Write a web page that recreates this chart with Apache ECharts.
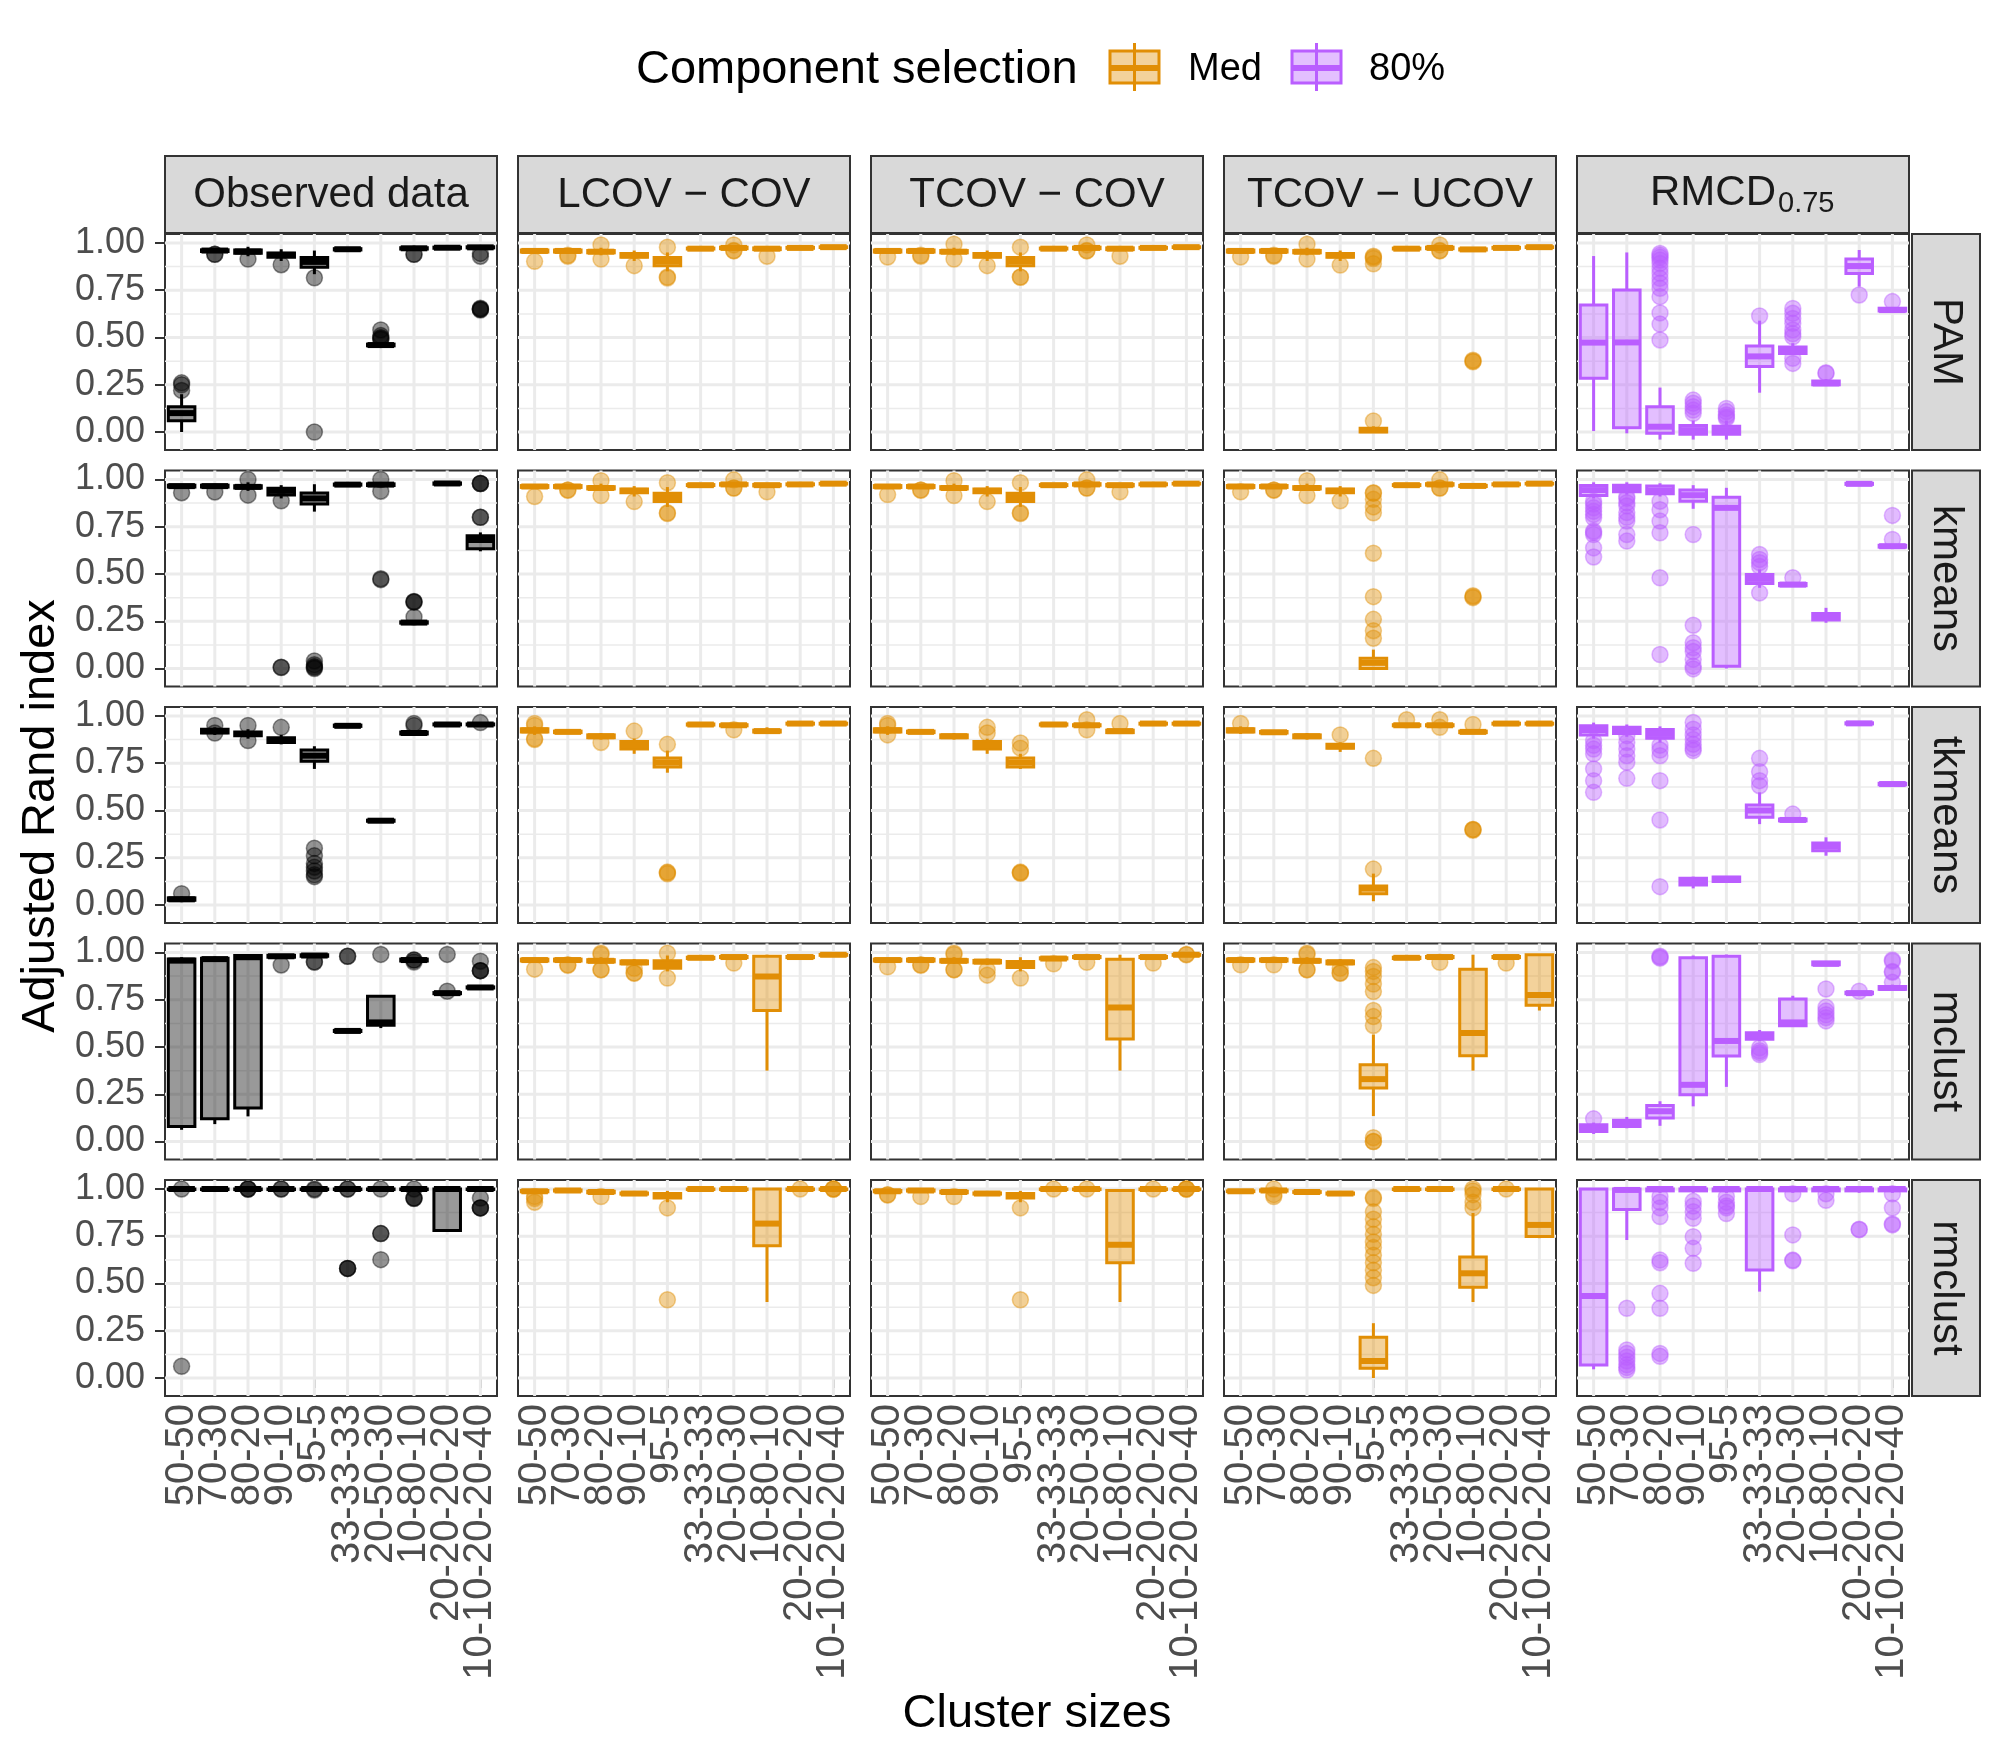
<!DOCTYPE html>
<html><head><meta charset="utf-8">
<script src="https://cdn.jsdelivr.net/npm/echarts@6/dist/echarts.min.js"></script>
<style>html,body{margin:0;padding:0;background:#fff}#c{width:2000px;height:1750px}</style>
</head><body><div id="c"></div>
<script>
// ---------------- DATA ----------------
const categories = ["50-50","70-30","80-20","90-10","95-5","33-33-33","20-50-30","10-80-10","20-20-20-20","10-10-20-20-40"];
const methods = ["Observed data","LCOV \u2212 COV","TCOV \u2212 COV","TCOV \u2212 UCOV","RMCD"];
const algorithms = ["PAM","kmeans","tkmeans","mclust","rmclust"];
const legendNames = ["Med","80%"];
const legendTitle = "Component selection";
const yTicks = [0, 0.25, 0.5, 0.75, 1];
const yMinor = [0.125, 0.375, 0.625, 0.875];

// boxes: [lower whisker, Q1, median, Q3, upper whisker] per category
// outliers: list of values per category
// ---- Observed data ----
const box_obs_pam = [[0.0,0.06,0.10,0.134,0.2],[0.95,0.955,0.96,0.964,0.97],[0.93,0.946,0.955,0.963,0.98],[0.905,0.925,0.937,0.947,0.967],[0.835,0.872,0.9,0.923,0.96],[0.96,0.963,0.967,0.97,0.974],[0.452,0.456,0.46,0.465,0.47],[0.965,0.968,0.972,0.975,0.98],[0.97,0.972,0.975,0.978,0.98],[0.97,0.974,0.977,0.98,0.985]];
const out_obs_pam = [[0.26,0.25,0.22],[0.94,0.94],[0.915],[0.885],[0.816,0.0],[],[0.54,0.51,0.5,0.495,0.49],[0.94,0.94],[],[0.945,0.93,0.65,0.65,0.655,0.645]];
const box_obs_kmeans = [[0.955,0.96,0.965,0.97,0.975],[0.955,0.96,0.965,0.97,0.975],[0.94,0.955,0.961,0.967,0.985],[0.9,0.918,0.94,0.954,0.97],[0.83,0.87,0.9,0.929,0.975],[0.965,0.97,0.973,0.976,0.98],[0.96,0.968,0.973,0.977,0.985],[0.235,0.24,0.243,0.247,0.25],[0.97,0.975,0.979,0.982,0.985],[0.62,0.633,0.68,0.702,0.72]];
const out_obs_kmeans = [[0.93],[0.934],[1.0,0.917],[0.887,0.007,0.005],[0.04,0.02,0.01,0.0,0.005],[],[1.0,0.938,0.47,0.475],[0.353,0.35,0.355,0.273],[],[0.8,0.8,0.979,0.979,0.979]];
const box_obs_tkmeans = [[0.02,0.025,0.03,0.038,0.045],[0.9,0.91,0.92,0.93,0.94],[0.88,0.895,0.905,0.915,0.93],[0.85,0.86,0.87,0.885,0.9],[0.72,0.76,0.79,0.82,0.84],[0.94,0.945,0.948,0.952,0.955],[0.44,0.443,0.446,0.449,0.452],[0.9,0.905,0.91,0.915,0.92],[0.95,0.953,0.955,0.958,0.96],[0.95,0.953,0.955,0.958,0.96]];
const out_obs_tkmeans = [[0.06],[0.95,0.91],[0.95,0.87],[0.94],[0.3,0.26,0.22,0.2,0.18,0.16,0.15],[],[],[0.95,0.96],[],[0.965]];
const box_obs_mclust = [[0.062,0.08,0.957,0.966,0.975],[0.092,0.12,0.965,0.97,0.978],[0.133,0.177,0.975,0.984,0.99],[0.97,0.975,0.98,0.985,0.99],[0.975,0.98,0.984,0.988,0.99],[0.58,0.582,0.585,0.588,0.59],[0.6,0.615,0.63,0.768,0.77],[0.95,0.955,0.96,0.965,0.97],[0.78,0.782,0.785,0.788,0.79],[0.81,0.812,0.815,0.818,0.82]];
const out_obs_mclust = [[],[],[],[0.934],[0.95,0.95],[0.98,0.98],[0.99],[0.96,0.96,0.95],[0.99,0.795],[0.954,0.904,0.904,0.904]];
const box_obs_rmclust = [[0.995,0.997,1.0,1.0,1.0],[0.995,0.997,1.0,1.0,1.0],[0.995,0.997,1.0,1.0,1.0],[0.995,0.997,1.0,1.0,1.0],[0.995,0.997,1.0,1.0,1.0],[0.995,0.997,1.0,1.0,1.0],[0.995,0.997,1.0,1.0,1.0],[0.995,0.997,1.0,1.0,1.0],[0.78,0.78,1.0,1.0,1.0],[0.995,0.997,1.0,1.0,1.0]];
const out_obs_rmclust = [[1.0,0.062],[],[1.0,1.0,1.0],[1.0,1.0],[1.0,0.995],[1.0,1.0,0.58,0.58,0.58],[1.0,0.764,0.764,0.626],[1.0,0.952,0.952,0.95],[],[0.952,0.9,0.9,0.9]];

// ---- LCOV - COV (Med) ----
const box_lcov_pam = [[0.945,0.952,0.958,0.963,0.97],[0.945,0.952,0.958,0.963,0.97],[0.935,0.948,0.954,0.96,0.975],[0.905,0.925,0.935,0.945,0.96],[0.85,0.88,0.903,0.923,0.95],[0.965,0.968,0.97,0.973,0.976],[0.965,0.97,0.974,0.978,0.985],[0.96,0.965,0.97,0.974,0.978],[0.97,0.972,0.974,0.977,0.98],[0.974,0.976,0.978,0.98,0.982]];
const out_lcov_pam = [[0.903],[0.93,0.935],[0.99,0.915],[0.88],[0.978,0.815,0.82],[],[0.99,0.958,0.96],[0.93],[],[]];
const box_lcov_kmeans = [[0.95,0.958,0.963,0.968,0.975],[0.95,0.958,0.963,0.968,0.975],[0.94,0.95,0.955,0.962,0.978],[0.91,0.93,0.94,0.95,0.965],[0.855,0.883,0.907,0.927,0.96],[0.965,0.968,0.97,0.973,0.976],[0.965,0.97,0.974,0.978,0.985],[0.96,0.966,0.97,0.974,0.978],[0.97,0.972,0.974,0.977,0.98],[0.974,0.976,0.978,0.98,0.982]];
const out_lcov_kmeans = [[0.91],[0.943,0.945],[0.994,0.915],[0.883],[0.983,0.824,0.82],[],[0.998,0.955,0.955],[0.935],[],[]];
const box_lcov_tkmeans = [[0.9,0.915,0.924,0.932,0.945],[0.905,0.912,0.916,0.92,0.925],[0.875,0.885,0.893,0.9,0.91],[0.8,0.825,0.845,0.865,0.88],[0.7,0.73,0.754,0.778,0.817],[0.95,0.952,0.955,0.958,0.96],[0.945,0.948,0.951,0.954,0.958],[0.91,0.915,0.92,0.925,0.94],[0.955,0.957,0.96,0.962,0.965],[0.955,0.957,0.96,0.962,0.965]];
const out_lcov_tkmeans = [[0.96,0.95,0.88,0.875],[],[0.86],[0.92],[0.85,0.174,0.17,0.165],[],[0.927],[],[],[]];
const box_lcov_mclust = [[0.95,0.955,0.96,0.965,0.97],[0.95,0.955,0.96,0.965,0.97],[0.94,0.95,0.956,0.962,0.975],[0.93,0.94,0.948,0.955,0.965],[0.9,0.916,0.936,0.956,0.984],[0.965,0.968,0.972,0.975,0.978],[0.97,0.973,0.976,0.979,0.982],[0.375,0.693,0.873,0.98,0.988],[0.97,0.973,0.976,0.979,0.982],[0.982,0.985,0.988,0.99,0.993]];
const out_lcov_mclust = [[0.912],[0.932,0.935],[0.996,0.99,0.908,0.91],[0.916,0.892,0.89],[0.996,0.865],[],[0.944],[],[],[]];
const box_lcov_rmclust = [[0.975,0.985,0.988,0.992,0.998],[0.985,0.989,0.992,0.995,0.998],[0.975,0.98,0.984,0.988,0.995],[0.97,0.973,0.976,0.979,0.985],[0.93,0.952,0.964,0.976,0.99],[0.995,0.997,1.0,1.0,1.0],[0.995,0.997,1.0,1.0,1.0],[0.402,0.7,0.817,1.0,1.0],[0.995,0.997,1.0,1.0,1.0],[0.995,0.997,1.0,1.0,1.0]];
const out_lcov_rmclust = [[0.96,0.93,0.95],[],[0.96],[],[0.9,0.414],[],[],[],[1.0],[1.0,1.0,1.0]];

// ---- TCOV - COV (Med) ----
const box_tcov_pam = [[0.945,0.952,0.958,0.963,0.97],[0.945,0.952,0.958,0.963,0.97],[0.935,0.948,0.954,0.96,0.975],[0.905,0.925,0.935,0.945,0.96],[0.85,0.88,0.903,0.923,0.95],[0.965,0.968,0.97,0.973,0.976],[0.965,0.97,0.974,0.978,0.985],[0.96,0.965,0.97,0.974,0.978],[0.97,0.972,0.974,0.977,0.98],[0.974,0.976,0.978,0.98,0.982]];
const out_tcov_pam = [[0.926],[0.93,0.935],[0.994,0.915],[0.88],[0.978,0.819,0.82],[],[0.99,0.958,0.96],[0.93],[],[]];
const box_tcov_kmeans = [[0.95,0.958,0.963,0.968,0.975],[0.95,0.958,0.963,0.968,0.975],[0.94,0.95,0.955,0.962,0.978],[0.91,0.93,0.94,0.95,0.965],[0.855,0.883,0.907,0.927,0.96],[0.965,0.968,0.97,0.973,0.976],[0.965,0.97,0.974,0.978,0.985],[0.96,0.966,0.97,0.974,0.978],[0.97,0.972,0.974,0.977,0.98],[0.974,0.976,0.978,0.98,0.982]];
const out_tcov_kmeans = [[0.92],[0.943,0.945],[0.994,0.915],[0.883],[0.983,0.824,0.82],[],[0.998,0.955,0.955],[0.935],[],[]];
const box_tcov_tkmeans = [[0.9,0.915,0.924,0.932,0.945],[0.905,0.912,0.916,0.92,0.925],[0.875,0.885,0.893,0.9,0.91],[0.8,0.825,0.845,0.865,0.88],[0.72,0.73,0.754,0.778,0.8],[0.95,0.952,0.955,0.958,0.96],[0.945,0.948,0.951,0.954,0.958],[0.905,0.912,0.92,0.925,0.93],[0.955,0.957,0.96,0.962,0.965],[0.955,0.957,0.96,0.962,0.965]];
const out_tcov_tkmeans = [[0.96,0.95,0.9],[],[],[0.94,0.91],[0.857,0.83,0.174,0.17,0.168],[],[0.98,0.927],[0.96],[],[]];
const box_tcov_mclust = [[0.95,0.955,0.96,0.965,0.97],[0.95,0.955,0.96,0.965,0.97],[0.94,0.95,0.956,0.962,0.975],[0.935,0.945,0.952,0.958,0.968],[0.9,0.92,0.936,0.952,0.975],[0.962,0.966,0.968,0.972,0.976],[0.97,0.973,0.976,0.979,0.982],[0.375,0.542,0.709,0.964,0.988],[0.97,0.973,0.976,0.979,0.982],[0.982,0.985,0.988,0.99,0.993]];
const out_tcov_mclust = [[0.924],[0.932,0.935],[0.996,0.99,0.908,0.91],[0.908,0.88],[0.865],[0.94],[0.948],[],[0.944],[0.988,0.99]];
const box_tcov_rmclust = [[0.975,0.985,0.988,0.992,0.998],[0.985,0.989,0.992,0.995,0.998],[0.975,0.98,0.984,0.988,0.995],[0.97,0.973,0.976,0.979,0.985],[0.93,0.952,0.964,0.976,0.99],[0.995,0.997,1.0,1.0,1.0],[0.995,0.997,1.0,1.0,1.0],[0.402,0.61,0.705,0.992,1.0],[0.995,0.997,1.0,1.0,1.0],[0.995,0.997,1.0,1.0,1.0]];
const out_tcov_rmclust = [[0.968,0.97],[0.96],[0.96],[],[0.9,0.414],[1.0],[1.0],[],[1.0],[1.0,1.0,1.0]];

// ---- TCOV - UCOV (Med) ----
const box_ucov_pam = [[0.945,0.952,0.958,0.963,0.97],[0.945,0.952,0.958,0.963,0.97],[0.935,0.948,0.954,0.96,0.975],[0.905,0.925,0.935,0.945,0.96],[-0.005,0.0,0.01,0.02,0.03],[0.965,0.968,0.97,0.973,0.976],[0.965,0.97,0.974,0.978,0.985],[0.96,0.963,0.966,0.969,0.972],[0.97,0.972,0.974,0.977,0.98],[0.974,0.976,0.978,0.98,0.982]];
const out_ucov_pam = [[0.926],[0.93,0.935],[0.994,0.915],[0.883],[0.058,0.93,0.925,0.918,0.89],[],[0.99,0.958,0.96],[0.375,0.38,0.372],[],[]];
const box_ucov_kmeans = [[0.95,0.958,0.963,0.968,0.975],[0.95,0.958,0.963,0.968,0.975],[0.94,0.95,0.955,0.962,0.978],[0.91,0.93,0.94,0.95,0.965],[-0.005,0.0,0.03,0.054,0.1],[0.965,0.968,0.97,0.973,0.976],[0.965,0.97,0.974,0.978,0.985],[0.96,0.963,0.966,0.969,0.972],[0.97,0.972,0.974,0.977,0.98],[0.974,0.976,0.978,0.98,0.982]];
const out_ucov_kmeans = [[0.935],[0.943,0.945],[0.994,0.915],[0.887],[0.16,0.2,0.26,0.38,0.61,0.824,0.855,0.895,0.927,0.93],[],[0.998,0.955,0.955],[0.38,0.375,0.385],[],[]];
const box_ucov_tkmeans = [[0.905,0.915,0.924,0.932,0.945],[0.905,0.91,0.914,0.918,0.922],[0.875,0.885,0.893,0.9,0.91],[0.81,0.83,0.84,0.85,0.86],[0.02,0.06,0.087,0.1,0.166],[0.945,0.948,0.951,0.954,0.958],[0.945,0.948,0.951,0.954,0.958],[0.905,0.912,0.916,0.92,0.93],[0.955,0.957,0.96,0.962,0.965],[0.955,0.957,0.96,0.962,0.965]];
const out_ucov_tkmeans = [[0.96],[],[],[0.9],[0.19,0.776],[0.98],[0.98,0.94],[0.955,0.4,0.4,0.395],[],[]];
const box_ucov_mclust = [[0.95,0.955,0.96,0.965,0.97],[0.95,0.955,0.96,0.965,0.97],[0.94,0.95,0.956,0.962,0.975],[0.93,0.94,0.948,0.955,0.965],[0.135,0.283,0.33,0.406,0.566],[0.965,0.968,0.972,0.975,0.978],[0.97,0.973,0.976,0.979,0.982],[0.375,0.454,0.574,0.912,0.988],[0.97,0.973,0.976,0.979,0.982],[0.693,0.721,0.775,0.988,0.99]];
const out_ucov_mclust = [[0.935],[0.935],[0.996,0.99,0.908,0.91],[0.916,0.892,0.89],[0.92,0.9,0.873,0.833,0.793,0.693,0.661,0.614,0.02,0.0,0.0],[],[0.948],[],[0.944],[]];
const box_ucov_rmclust = [[0.985,0.986,0.988,0.99,0.992],[0.985,0.989,0.992,0.995,0.998],[0.98,0.982,0.984,0.986,0.988],[0.97,0.973,0.976,0.979,0.982],[0.0,0.052,0.09,0.215,0.29],[0.995,0.997,1.0,1.0,1.0],[0.995,0.997,1.0,1.0,1.0],[0.402,0.48,0.554,0.64,0.873],[0.995,0.997,1.0,1.0,1.0],[0.74,0.749,0.81,1.0,1.0]];
const out_ucov_rmclust = [[],[1.0,0.96,0.97],[],[],[0.956,0.95,0.88,0.84,0.8,0.76,0.72,0.69,0.65,0.61,0.57,0.53,0.49],[],[],[1.0,0.99,0.97,0.93,0.9],[1.0],[]];

// ---- RMCD 0.75 (80%) ----
const box_rmcd_pam = [[0.005,0.284,0.473,0.672,0.931],[-0.007,0.023,0.474,0.751,0.95],[-0.04,-0.007,0.028,0.134,0.235],[-0.04,-0.012,0.01,0.035,0.06],[-0.04,-0.012,0.01,0.03,0.06],[0.208,0.346,0.4,0.455,0.589],[0.41,0.416,0.434,0.45,0.47],[0.243,0.25,0.257,0.27,0.28],[0.769,0.839,0.878,0.915,0.963],[0.635,0.64,0.645,0.655,0.66]];
const out_rmcd_pam = [[],[],[0.945,0.935,0.924,0.91,0.892,0.866,0.84,0.813,0.787,0.76,0.716,0.63,0.571,0.487],[0.169,0.152,0.134,0.116,0.099],[0.125,0.108,0.09,0.072,0.08],[0.614],[0.654,0.628,0.601,0.575,0.54,0.52,0.504,0.39,0.363],[0.314,0.31],[0.725],[0.69]];
const box_rmcd_kmeans = [[0.9,0.915,0.944,0.968,0.985],[0.92,0.935,0.954,0.97,0.985],[0.91,0.924,0.942,0.965,0.98],[0.845,0.885,0.917,0.944,0.97],[0.0,0.012,0.85,0.906,0.956],[0.427,0.45,0.474,0.497,0.524],[0.435,0.438,0.444,0.45,0.455],[0.242,0.256,0.273,0.291,0.321],[0.972,0.974,0.977,0.98,0.982],[0.64,0.642,0.647,0.652,0.655]];
const out_rmcd_kmeans = [[0.885,0.87,0.85,0.832,0.815,0.797,0.727,0.72,0.709,0.638,0.59],[0.91,0.9,0.877,0.86,0.825,0.8,0.78,0.709,0.674],[0.885,0.84,0.78,0.718,0.48,0.074],[0.709,0.229,0.136,0.11,0.09,0.048,0.012,-0.002],[],[0.603,0.577,0.56,0.54,0.4],[0.48],[],[],[0.81,0.683]];
const box_rmcd_tkmeans = [[0.88,0.9,0.926,0.948,0.965],[0.89,0.908,0.926,0.94,0.955],[0.86,0.882,0.905,0.928,0.945],[0.088,0.106,0.123,0.141,0.15],[0.12,0.125,0.138,0.148,0.152],[0.428,0.464,0.5,0.529,0.596],[0.44,0.445,0.45,0.455,0.46],[0.261,0.287,0.31,0.328,0.358],[0.955,0.958,0.961,0.964,0.967],[0.633,0.636,0.64,0.644,0.647]];
const out_rmcd_tkmeans = [[0.87,0.845,0.825,0.8,0.72,0.658,0.596],[0.896,0.86,0.825,0.79,0.755,0.67],[0.845,0.82,0.79,0.658,0.45,0.097],[0.966,0.93,0.9,0.875,0.85,0.83,0.817],[],[0.776,0.705,0.658,0.631],[0.481],[],[],[]];
const box_rmcd_mclust = [[0.04,0.053,0.071,0.089,0.1],[0.07,0.08,0.098,0.112,0.13],[0.083,0.124,0.16,0.191,0.213],[0.186,0.248,0.3,0.972,0.984],[0.289,0.452,0.532,0.98,0.989],[0.53,0.541,0.559,0.576,0.59],[0.61,0.612,0.63,0.754,0.771],[0.93,0.935,0.94,0.95,0.955],[0.78,0.782,0.785,0.79,0.795],[0.8,0.805,0.812,0.82,0.83]];
const out_rmcd_mclust = [[0.12],[],[0.975,0.98,0.97],[],[],[0.496,0.48,0.47,0.46],[],[0.807,0.71,0.69,0.67,0.655,0.638],[0.795],[0.954,0.96,0.895,0.9,0.842]];
const box_rmcd_rmclust = [[0.046,0.069,0.434,1.0,1.0],[0.73,0.892,0.995,1.0,1.0],[0.98,0.99,1.0,1.0,1.0],[0.98,0.99,1.0,1.0,1.0],[0.98,0.99,1.0,1.0,1.0],[0.457,0.571,1.0,1.0,1.0],[0.98,0.99,1.0,1.0,1.0],[0.98,0.99,1.0,1.0,1.0],[0.98,0.99,1.0,1.0,1.0],[0.98,0.99,1.0,1.0,1.0]];
const out_rmcd_rmclust = [[],[0.369,0.148,0.13,0.11,0.09,0.07,0.055,0.042],[0.96,0.93,0.9,0.854,0.624,0.61,0.448,0.369,0.13,0.115],[0.935,0.91,0.88,0.845,0.748,0.686,0.607],[0.96,0.93,0.91,0.9,0.87],[],[0.975,0.757,0.624,0.62],[0.975,0.94],[0.787,0.785],[0.975,0.9,0.815,0.81]];

// ---------------- TABLES FOR THE LIBRARY ----------------
const boxTable = [
  [box_obs_pam, box_obs_kmeans, box_obs_tkmeans, box_obs_mclust, box_obs_rmclust],
  [box_lcov_pam, box_lcov_kmeans, box_lcov_tkmeans, box_lcov_mclust, box_lcov_rmclust],
  [box_tcov_pam, box_tcov_kmeans, box_tcov_tkmeans, box_tcov_mclust, box_tcov_rmclust],
  [box_ucov_pam, box_ucov_kmeans, box_ucov_tkmeans, box_ucov_mclust, box_ucov_rmclust],
  [box_rmcd_pam, box_rmcd_kmeans, box_rmcd_tkmeans, box_rmcd_mclust, box_rmcd_rmclust]
];
const outTable = [
  [out_obs_pam, out_obs_kmeans, out_obs_tkmeans, out_obs_mclust, out_obs_rmclust],
  [out_lcov_pam, out_lcov_kmeans, out_lcov_tkmeans, out_lcov_mclust, out_lcov_rmclust],
  [out_tcov_pam, out_tcov_kmeans, out_tcov_tkmeans, out_tcov_mclust, out_tcov_rmclust],
  [out_ucov_pam, out_ucov_kmeans, out_ucov_tkmeans, out_ucov_mclust, out_ucov_rmclust],
  [out_rmcd_pam, out_rmcd_kmeans, out_rmcd_tkmeans, out_rmcd_mclust, out_rmcd_rmclust]
];

// ---------------- LAYOUT & STYLE ----------------
const FONT = "Liberation Sans, Arial, Helvetica, sans-serif";
const COL_LEFT = [165, 518, 871, 1224, 1577];
const ROW_TOP = [234, 470.5, 707, 943.5, 1180];
const PW = 332, PH = 216;
const YMIN = -0.0952, YMAX = 1.0476;
const ORANGE = "#E18E05", PURPLE = "#BA5EFF";
const styles = [
  {stroke: "#000000", fill: "rgba(0,0,0,0.4)", point: "rgba(0,0,0,0.42)"},
  {stroke: ORANGE, fill: "rgba(225,142,5,0.4)", point: "rgba(225,142,5,0.42)"},
  {stroke: ORANGE, fill: "rgba(225,142,5,0.4)", point: "rgba(225,142,5,0.42)"},
  {stroke: ORANGE, fill: "rgba(225,142,5,0.4)", point: "rgba(225,142,5,0.42)"},
  {stroke: PURPLE, fill: "rgba(186,94,255,0.4)", point: "rgba(186,94,255,0.42)"}
];
const LW = 3;

function gridRenderer(params, api) {
  const cs = params.coordSys;
  const kind = api.value(0), v = api.value(1);
  if (kind === 2) {
    const x = api.coord([v, 0])[0];
    return {type: "line", shape: {x1: x, y1: cs.y, x2: x, y2: cs.y + cs.height}, style: {stroke: "#EBEBEB", lineWidth: 3}, silent: true};
  }
  const y = api.coord([0, v])[1];
  return {type: "line", shape: {x1: cs.x, y1: y, x2: cs.x + cs.width, y2: y}, style: {stroke: "#EBEBEB", lineWidth: kind === 0 ? 3 : 1.5}, silent: true};
}

function makeBoxRenderer(st) {
  return function (params, api) {
    const i = api.value(0);
    const lo = api.value(1), q1 = api.value(2), med = api.value(3), q3 = api.value(4), hi = api.value(5);
    const band = api.size([1, 0])[0];
    const bw = band * 0.8;
    const cx = api.coord([i, med])[0];
    const yLo = api.coord([i, lo])[1], yQ1 = api.coord([i, q1])[1], yMed = api.coord([i, med])[1];
    const yQ3 = api.coord([i, q3])[1], yHi = api.coord([i, hi])[1];
    return {type: "group", children: [
      {type: "line", shape: {x1: cx, y1: yHi, x2: cx, y2: yQ3}, style: {stroke: st.stroke, lineWidth: LW}},
      {type: "line", shape: {x1: cx, y1: yQ1, x2: cx, y2: yLo}, style: {stroke: st.stroke, lineWidth: LW}},
      {type: "rect", shape: {x: cx - bw / 2, y: yQ3, width: bw, height: Math.max(yQ1 - yQ3, 0.5)}, style: {fill: st.fill, stroke: st.stroke, lineWidth: LW}},
      {type: "line", shape: {x1: cx - bw / 2, y1: yMed, x2: cx + bw / 2, y2: yMed}, style: {stroke: st.stroke, lineWidth: LW * 2}}
    ]};
  };
}

const gridData = [];
yTicks.forEach(v => gridData.push([0, v]));
yMinor.forEach(v => gridData.push([1, v]));
categories.forEach((c, i) => gridData.push([2, i]));

const grids = [], xAxes = [], yAxes = [], series = [];
for (let r = 0; r < algorithms.length; r++) {
  for (let c = 0; c < methods.length; c++) {
    const g = r * methods.length + c;
    grids.push({left: COL_LEFT[c], top: ROW_TOP[r], width: PW, height: PH, show: true,
      backgroundColor: "#FFFFFF", borderColor: "#333333", borderWidth: 2, containLabel: false, outerBoundsMode: "none"});
    xAxes.push({type: "category", gridIndex: g, data: categories, boundaryGap: true,
      axisLine: {show: false},
      axisTick: {show: r === algorithms.length - 1, alignWithLabel: true, length: 10, lineStyle: {color: "#333333", width: 2}},
      axisLabel: {show: r === algorithms.length - 1, rotate: 90, interval: 0, fontSize: 40, color: "#4D4D4D", fontFamily: FONT, margin: 8},
      splitLine: {show: false}});
    yAxes.push({type: "value", gridIndex: g, min: YMIN, max: YMAX,
      axisLine: {show: false}, splitLine: {show: false},
      axisTick: {show: c === 0, length: 10, customValues: yTicks, lineStyle: {color: "#333333", width: 2}},
      axisLabel: {show: c === 0, customValues: yTicks, fontSize: 36, color: "#4D4D4D", fontFamily: FONT, margin: 20,
        formatter: v => Number(v).toFixed(2)}});
    series.push({type: "custom", xAxisIndex: g, yAxisIndex: g, renderItem: gridRenderer, data: gridData, z: 1, silent: true, animation: false});
    const st = styles[c];
    const outData = [];
    outTable[c][r].forEach((vals, i) => vals.forEach(v => outData.push([i, v])));
    series.push({type: "scatter", xAxisIndex: g, yAxisIndex: g, data: outData, symbol: "circle", symbolSize: 16,
      itemStyle: {color: st.point, borderColor: st.point, borderWidth: 1.5, opacity: 1}, z: 2, silent: true, animation: false});
    const boxData = boxTable[c][r].map((b, i) => b ? [i, b[0], b[1], b[2], b[3], b[4]] : null).filter(Boolean);
    series.push({type: "custom", xAxisIndex: g, yAxisIndex: g, renderItem: makeBoxRenderer(st), data: boxData,
      encode: {x: 0, y: [1, 2, 3, 4, 5]}, z: 3, silent: true, animation: false});
  }
}

// strips, titles, legend (graphic)
const graphics = [];
methods.forEach((m, c) => {
  graphics.push({type: "rect", shape: {x: COL_LEFT[c], y: 156, width: PW, height: 77}, style: {fill: "#D9D9D9", stroke: "#333333", lineWidth: 2}, z: 10});
  if (c < methods.length - 1) {
    graphics.push({type: "text", x: COL_LEFT[c] + PW / 2, y: 195, style: {text: m, fontSize: 42, fontFamily: FONT, fill: "#1A1A1A", textAlign: "center", textVerticalAlign: "middle"}, z: 11});
  } else {
    graphics.push({type: "text", x: 1776, y: 193, style: {text: m, fontSize: 42, fontFamily: FONT, fill: "#1A1A1A", textAlign: "right", textVerticalAlign: "middle"}, z: 11});
    graphics.push({type: "text", x: 1778, y: 204, style: {text: "0.75", fontSize: 29, fontFamily: FONT, fill: "#1A1A1A", textAlign: "left", textVerticalAlign: "middle"}, z: 11});
  }
});
algorithms.forEach((a, r) => {
  graphics.push({type: "rect", shape: {x: 1912, y: ROW_TOP[r], width: 68, height: PH}, style: {fill: "#D9D9D9", stroke: "#333333", lineWidth: 2}, z: 10});
  graphics.push({type: "text", x: 1946, y: ROW_TOP[r] + PH / 2, rotation: -Math.PI / 2, style: {text: a, fontSize: 42, fontFamily: FONT, fill: "#1A1A1A", textAlign: "center", textVerticalAlign: "middle"}, z: 11});
});
graphics.push({type: "text", x: 41, y: 816, rotation: Math.PI / 2, style: {text: "Adjusted Rand index", fontSize: 47, fontFamily: FONT, fill: "#000", textAlign: "center", textVerticalAlign: "middle"}});
graphics.push({type: "text", x: 1037, y: 1714, style: {text: "Cluster sizes", fontSize: 47, fontFamily: FONT, fill: "#000", textAlign: "center", textVerticalAlign: "middle"}});
graphics.push({type: "text", x: 636, y: 70, style: {text: legendTitle, fontSize: 47, fontFamily: FONT, fill: "#000", textAlign: "left", textVerticalAlign: "middle"}});
const legendKeys = [{x: 1110, st: styles[1], tx: 1188}, {x: 1292, st: styles[4], tx: 1369}];
legendKeys.forEach((k, i) => {
  graphics.push({type: "line", shape: {x1: k.x + 24.5, y1: 43, x2: k.x + 24.5, y2: 91}, style: {stroke: k.st.stroke, lineWidth: LW}});
  graphics.push({type: "rect", shape: {x: k.x, y: 51, width: 49, height: 32}, style: {fill: k.st.fill, stroke: k.st.stroke, lineWidth: LW}});
  graphics.push({type: "line", shape: {x1: k.x, y1: 68, x2: k.x + 49, y2: 68}, style: {stroke: k.st.stroke, lineWidth: LW * 2}});
  graphics.push({type: "text", x: k.tx, y: 70, style: {text: legendNames[i], fontSize: 38, fontFamily: FONT, fill: "#000", textAlign: "left", textVerticalAlign: "middle"}});
});

const chart = echarts.init(document.getElementById("c"), null, {renderer: "canvas"});
chart.setOption({
  animation: false,
  backgroundColor: "#FFFFFF",
  textStyle: {fontFamily: FONT},
  grid: grids, xAxis: xAxes, yAxis: yAxes, series: series, graphic: graphics
});
</script></body></html>
